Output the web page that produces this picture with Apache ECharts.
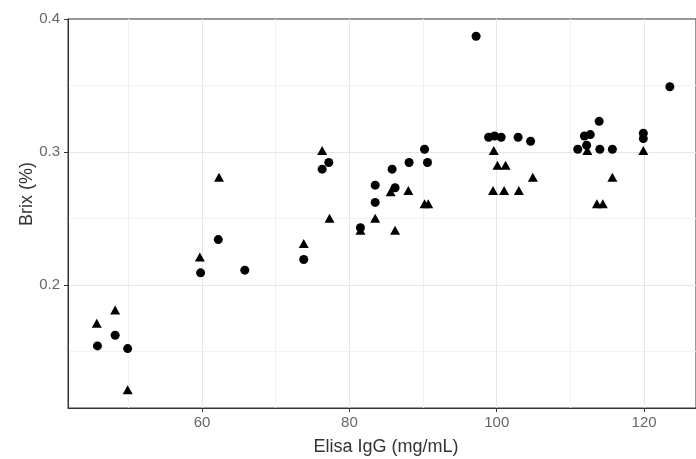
<!DOCTYPE html>
<html>
<head>
<meta charset="utf-8">
<script src="https://cdn.jsdelivr.net/npm/echarts@6/dist/echarts.min.js"></script>
<style>
  html, body { margin: 0; padding: 0; background: #ffffff; }
  #chart { width: 696px; height: 459px; }
</style>
</head>
<body>
<div id="chart"></div>
<script>
// Elisa IgG (mg/mL) vs Brix (%) — two measurement groups
const circleX = [45.8, 48.2, 49.9, 59.8, 62.2, 65.8, 73.8, 76.3, 77.2, 81.5, 83.5, 83.5, 85.8, 86.2, 88.1, 90.2, 90.6, 97.2,
                 98.9, 99.7, 100.6, 102.9, 104.6, 111.0, 111.9, 112.2, 112.7, 113.9, 114.0, 115.7, 119.9, 119.9, 123.5];
const circleY = [0.154, 0.162, 0.152, 0.209, 0.234, 0.211, 0.219, 0.287, 0.292, 0.243, 0.262, 0.275, 0.287, 0.273, 0.292, 0.302, 0.292, 0.387,
                 0.311, 0.312, 0.311, 0.311, 0.308, 0.302, 0.312, 0.305, 0.313, 0.323, 0.302, 0.302, 0.314, 0.310, 0.349];

const triangleX = [45.7, 48.2, 49.9, 59.7, 62.3, 73.8, 76.3, 77.3, 81.5, 83.5, 85.6, 86.2, 88.0, 90.2, 90.7,
                   99.6, 100.1, 101.2, 99.5, 101.0, 103.0, 104.9, 112.3, 113.6, 114.4, 115.7, 119.9];
const triangleY = [0.171, 0.181, 0.121, 0.221, 0.281, 0.231, 0.301, 0.250, 0.241, 0.250, 0.270, 0.241, 0.271, 0.261, 0.261,
                   0.301, 0.290, 0.290, 0.271, 0.271, 0.271, 0.281, 0.301, 0.261, 0.261, 0.281, 0.301];

const xTicks = [60, 80, 100, 120];
const yTicks = [0.2, 0.3, 0.4];
const xMinorGrid = [50, 70, 90, 110];
const yMinorGrid = [0.15, 0.25, 0.35];

const xRange = [41.8, 127.05];
const yRange = [0.1073, 0.4];

const pairs = (xs, ys) => xs.map((x, i) => [x, ys[i]]);

const FONT = 'Liberation Sans, Arial, sans-serif';

const chart = echarts.init(document.getElementById('chart'), null, { renderer: 'canvas' });

const gridLine = (values, axisKey, color) => values.map(v => ({ [axisKey]: v, lineStyle: { color: color, width: 1, type: 'solid' } }));

chart.setOption({
  animation: false,
  backgroundColor: '#ffffff',
  grid: {
    left: 68, top: 19, bottom: 51, right: -5,
    show: true, borderColor: '#333333', borderWidth: 1, backgroundColor: 'transparent'
  },
  xAxis: {
    type: 'value',
    min: xRange[0], max: xRange[1],
    axisLine: { show: true, onZero: false, lineStyle: { color: '#333333', width: 1 } },
    axisTick: { show: true, customValues: xTicks, length: 4, lineStyle: { color: '#333333' } },
    axisLabel: { customValues: xTicks, color: '#666666', fontSize: 15, fontFamily: FONT, margin: 7 },
    splitLine: { show: false }
  },
  yAxis: {
    type: 'value',
    min: yRange[0], max: yRange[1],
    axisLine: { show: true, onZero: false, lineStyle: { color: '#333333', width: 1 } },
    axisTick: { show: true, customValues: yTicks, length: 4, lineStyle: { color: '#333333' } },
    axisLabel: { customValues: yTicks, color: '#666666', fontSize: 15, fontFamily: FONT, margin: 8,
                 formatter: v => v.toFixed(1) },
    splitLine: { show: false }
  },
  graphic: [
    {
      type: 'text', x: 0, y: 0,
      style: { text: 'Elisa IgG (mg/mL)', x: 386, y: 447, align: 'center', verticalAlign: 'middle',
               fill: '#333333', fontSize: 18, fontFamily: FONT }
    },
    {
      type: 'text', x: 27, y: 194, rotation: Math.PI / 2,
      style: { text: 'Brix (%)', x: 0, y: 0, align: 'center', verticalAlign: 'middle',
               fill: '#333333', fontSize: 18, fontFamily: FONT }
    }
  ],
  series: [
    {
      // background grid drawn through the axis scales
      type: 'scatter', data: [], silent: true, z: 0,
      markLine: {
        z: 0, silent: true, symbol: 'none', label: { show: false }, animation: false,
        data: [
          ...gridLine(xMinorGrid, 'xAxis', '#f2f2f2'),
          ...gridLine(yMinorGrid, 'yAxis', '#f2f2f2'),
          ...gridLine(xTicks, 'xAxis', '#e6e6e6'),
          ...gridLine(yTicks.filter(v => v < yRange[1]), 'yAxis', '#e6e6e6')
        ]
      }
    },
    {
      name: 'triangle', type: 'scatter', z: 3,
      symbol: 'triangle', symbolSize: [10, 9],
      itemStyle: { color: '#000000', opacity: 1 },
      data: pairs(triangleX, triangleY)
    },
    {
      name: 'circle', type: 'scatter', z: 4,
      symbol: 'circle', symbolSize: 9,
      itemStyle: { color: '#000000', opacity: 1 },
      data: pairs(circleX, circleY)
    }
  ]
});
</script>
</body>
</html>
